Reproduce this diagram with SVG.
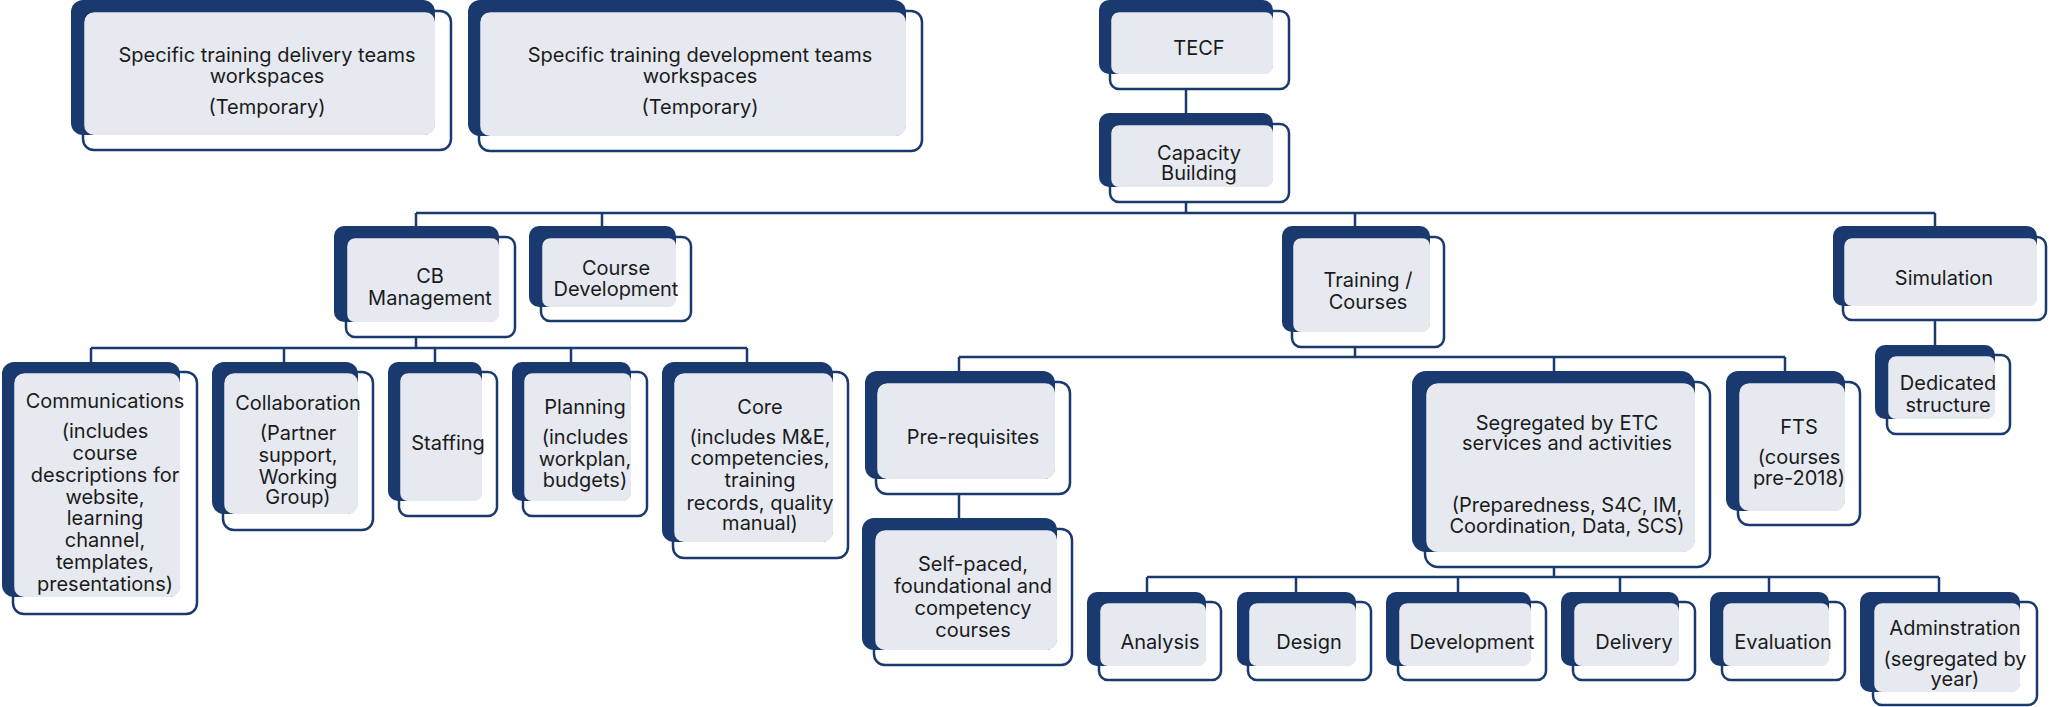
<svg xmlns="http://www.w3.org/2000/svg" width="2051" height="707" viewBox="0 0 2051 707">
<style>
.d{fill:#1a3a6f}
.l{fill:#e6e9f0}
.o{fill:none;stroke:#1a3a6f;stroke-width:2.5}
.t{font-family:Inter,"Noto Sans","Liberation Sans",sans-serif;font-size:20px;fill:#1b1b1b;text-anchor:middle}
.c{fill:none;stroke:#1a3a6f;stroke-width:2.5}
</style>
<rect width="2051" height="707" fill="#ffffff"/>
<g id="connectors">
<path class="c" d="M1186 89V113"/>
<path class="c" d="M1186 202V213M416 213H1935M416 213V226M602 213V226M1355 213V226M1935 213V226"/>
<path class="c" d="M416 337V348M91 348H747M91 348V362M284 348V362M435 348V362M571 348V362M747 348V362"/>
<path class="c" d="M1355 347V357M959 357H1785M959 357V371M1554 357V371M1785 357V371"/>
<path class="c" d="M959 494V518"/>
<path class="c" d="M1935 320V345"/>
<path class="c" d="M1554 567V577M1147 577H1939M1147 577V592M1296 577V592M1458 577V592M1620 577V592M1769 577V592M1939 577V592"/>
</g>
<g id="n-delivery-teams">
<rect class="d" x="71" y="0" width="364" height="135" rx="12"/>
<rect class="l" x="84" y="12" width="351" height="123" rx="10"/>
<rect class="o" x="83" y="11" width="368" height="139" rx="11"/>
<text class="t"><tspan x="267" y="62">Specific training delivery teams</tspan><tspan x="267" y="83">workspaces</tspan><tspan x="267" y="114">(Temporary)</tspan></text>
</g>
<g id="n-development-teams">
<rect class="d" x="468" y="0" width="438" height="136" rx="12"/>
<rect class="l" x="480" y="12" width="426" height="124" rx="10"/>
<rect class="o" x="479" y="11" width="443" height="140" rx="11"/>
<text class="t"><tspan x="700" y="62">Specific training development teams</tspan><tspan x="700" y="83">workspaces</tspan><tspan x="700" y="114">(Temporary)</tspan></text>
</g>
<g id="n-tecf">
<rect class="d" x="1099" y="0" width="174" height="74" rx="10"/>
<rect class="l" x="1111" y="12" width="162" height="62" rx="8"/>
<rect class="o" x="1110" y="11" width="179" height="78" rx="9"/>
<text class="t"><tspan x="1199" y="55">TECF</tspan></text>
</g>
<g id="n-capacity">
<rect class="d" x="1099" y="113" width="174" height="74" rx="10"/>
<rect class="l" x="1111" y="125" width="162" height="62" rx="8"/>
<rect class="o" x="1110" y="124" width="179" height="78" rx="9"/>
<text class="t"><tspan x="1199" y="160">Capacity</tspan><tspan x="1199" y="180">Building</tspan></text>
</g>
<g id="n-cb-management">
<rect class="d" x="334" y="226" width="165" height="96" rx="10"/>
<rect class="l" x="347" y="238" width="152" height="84" rx="8"/>
<rect class="o" x="346" y="237" width="169" height="100" rx="9"/>
<text class="t"><tspan x="430" y="283">CB</tspan><tspan x="430" y="305">Management</tspan></text>
</g>
<g id="n-course-development">
<rect class="d" x="529" y="226" width="147" height="81" rx="10"/>
<rect class="l" x="542" y="238" width="134" height="69" rx="8"/>
<rect class="o" x="541" y="237" width="150" height="84" rx="9"/>
<text class="t"><tspan x="616" y="275">Course</tspan><tspan x="616" y="296">Development</tspan></text>
</g>
<g id="n-training">
<rect class="d" x="1282" y="226" width="148" height="106" rx="10"/>
<rect class="l" x="1293" y="238" width="137" height="94" rx="8"/>
<rect class="o" x="1292" y="237" width="152" height="110" rx="9"/>
<text class="t"><tspan x="1368" y="287">Training /</tspan><tspan x="1368" y="309">Courses</tspan></text>
</g>
<g id="n-simulation">
<rect class="d" x="1833" y="226" width="204" height="80" rx="10"/>
<rect class="l" x="1844" y="238" width="193" height="68" rx="8"/>
<rect class="o" x="1843" y="237" width="203" height="83" rx="9"/>
<text class="t"><tspan x="1944" y="285">Simulation</tspan></text>
</g>
<g id="n-communications">
<rect class="d" x="2" y="362" width="178" height="235" rx="12"/>
<rect class="l" x="14" y="373" width="166" height="224" rx="10"/>
<rect class="o" x="13" y="372" width="184" height="242" rx="11"/>
<text class="t"><tspan x="105" y="408">Communications</tspan><tspan x="105" y="438">(includes</tspan><tspan x="105" y="460">course</tspan><tspan x="105" y="482">descriptions for</tspan><tspan x="105" y="504">website,</tspan><tspan x="105" y="525">learning</tspan><tspan x="105" y="547">channel,</tspan><tspan x="105" y="569">templates,</tspan><tspan x="105" y="591">presentations)</tspan></text>
</g>
<g id="n-collaboration">
<rect class="d" x="212" y="362" width="146" height="152" rx="12"/>
<rect class="l" x="224" y="373" width="134" height="141" rx="10"/>
<rect class="o" x="223" y="372" width="150" height="158" rx="11"/>
<text class="t"><tspan x="298" y="410">Collaboration</tspan><tspan x="298" y="440">(Partner</tspan><tspan x="298" y="462">support,</tspan><tspan x="298" y="484">Working</tspan><tspan x="298" y="504">Group)</tspan></text>
</g>
<g id="n-staffing">
<rect class="d" x="388" y="362" width="94" height="139" rx="10"/>
<rect class="l" x="400" y="373" width="82" height="128" rx="8"/>
<rect class="o" x="399" y="372" width="98" height="144" rx="9"/>
<text class="t"><tspan x="448" y="450">Staffing</tspan></text>
</g>
<g id="n-planning">
<rect class="d" x="512" y="362" width="119" height="139" rx="10"/>
<rect class="l" x="524" y="373" width="107" height="128" rx="8"/>
<rect class="o" x="523" y="372" width="124" height="144" rx="9"/>
<text class="t"><tspan x="585" y="414">Planning</tspan><tspan x="585" y="444">(includes</tspan><tspan x="585" y="466">workplan,</tspan><tspan x="585" y="487">budgets)</tspan></text>
</g>
<g id="n-core">
<rect class="d" x="662" y="362" width="171" height="180" rx="12"/>
<rect class="l" x="674" y="373" width="159" height="169" rx="10"/>
<rect class="o" x="673" y="372" width="175" height="186" rx="11"/>
<text class="t"><tspan x="760" y="414">Core</tspan><tspan x="760" y="444">(includes M&amp;E,</tspan><tspan x="760" y="465">competencies,</tspan><tspan x="760" y="487">training</tspan><tspan x="760" y="510">records, quality</tspan><tspan x="760" y="530">manual)</tspan></text>
</g>
<g id="n-prerequisites">
<rect class="d" x="865" y="371" width="190" height="108" rx="12"/>
<rect class="l" x="877" y="383" width="178" height="96" rx="10"/>
<rect class="o" x="876" y="382" width="194" height="112" rx="11"/>
<text class="t"><tspan x="973" y="444">Pre-requisites</tspan></text>
</g>
<g id="n-self-paced">
<rect class="d" x="862" y="518" width="195" height="132" rx="12"/>
<rect class="l" x="875" y="530" width="182" height="120" rx="10"/>
<rect class="o" x="874" y="529" width="198" height="136" rx="11"/>
<text class="t"><tspan x="973" y="571">Self-paced,</tspan><tspan x="973" y="593">foundational and</tspan><tspan x="973" y="615">competency</tspan><tspan x="973" y="637">courses</tspan></text>
</g>
<g id="n-segregated">
<rect class="d" x="1412" y="371" width="283" height="181" rx="14"/>
<rect class="l" x="1426" y="383" width="269" height="169" rx="12"/>
<rect class="o" x="1425" y="382" width="285" height="185" rx="13"/>
<text class="t"><tspan x="1567" y="430">Segregated by ETC</tspan><tspan x="1567" y="450">services and activities</tspan><tspan x="1567" y="512">(Preparedness, S4C, IM,</tspan><tspan x="1567" y="533">Coordination, Data, SCS)</tspan></text>
</g>
<g id="n-fts">
<rect class="d" x="1726" y="371" width="119" height="140" rx="12"/>
<rect class="l" x="1739" y="383" width="106" height="128" rx="10"/>
<rect class="o" x="1738" y="382" width="122" height="143" rx="11"/>
<text class="t"><tspan x="1799" y="434">FTS</tspan><tspan x="1799" y="464">(courses</tspan><tspan x="1799" y="485">pre-2018)</tspan></text>
</g>
<g id="n-dedicated">
<rect class="d" x="1875" y="345" width="120" height="74" rx="10"/>
<rect class="l" x="1888" y="356" width="107" height="63" rx="8"/>
<rect class="o" x="1887" y="355" width="123" height="79" rx="9"/>
<text class="t"><tspan x="1948" y="390">Dedicated</tspan><tspan x="1948" y="412">structure</tspan></text>
</g>
<g id="n-analysis">
<rect class="d" x="1087" y="592" width="119" height="74" rx="10"/>
<rect class="l" x="1100" y="603" width="106" height="63" rx="8"/>
<rect class="o" x="1099" y="602" width="122" height="78" rx="9"/>
<text class="t"><tspan x="1160" y="649">Analysis</tspan></text>
</g>
<g id="n-design">
<rect class="d" x="1237" y="592" width="119" height="74" rx="10"/>
<rect class="l" x="1249" y="603" width="107" height="63" rx="8"/>
<rect class="o" x="1248" y="602" width="123" height="78" rx="9"/>
<text class="t"><tspan x="1309" y="649">Design</tspan></text>
</g>
<g id="n-development">
<rect class="d" x="1386" y="592" width="145" height="74" rx="10"/>
<rect class="l" x="1399" y="603" width="132" height="63" rx="8"/>
<rect class="o" x="1398" y="602" width="148" height="78" rx="9"/>
<text class="t"><tspan x="1472" y="649">Development</tspan></text>
</g>
<g id="n-delivery">
<rect class="d" x="1561" y="592" width="118" height="74" rx="10"/>
<rect class="l" x="1574" y="603" width="105" height="63" rx="8"/>
<rect class="o" x="1573" y="602" width="122" height="78" rx="9"/>
<text class="t"><tspan x="1634" y="649">Delivery</tspan></text>
</g>
<g id="n-evaluation">
<rect class="d" x="1710" y="592" width="119" height="74" rx="10"/>
<rect class="l" x="1723" y="603" width="106" height="63" rx="8"/>
<rect class="o" x="1722" y="602" width="123" height="78" rx="9"/>
<text class="t"><tspan x="1783" y="649">Evaluation</tspan></text>
</g>
<g id="n-adminstration">
<rect class="d" x="1860" y="592" width="160" height="100" rx="10"/>
<rect class="l" x="1874" y="603" width="146" height="89" rx="8"/>
<rect class="o" x="1873" y="602" width="164" height="103" rx="9"/>
<text class="t"><tspan x="1955" y="635">Adminstration</tspan><tspan x="1955" y="666">(segregated by</tspan><tspan x="1955" y="686">year)</tspan></text>
</g>
</svg>
